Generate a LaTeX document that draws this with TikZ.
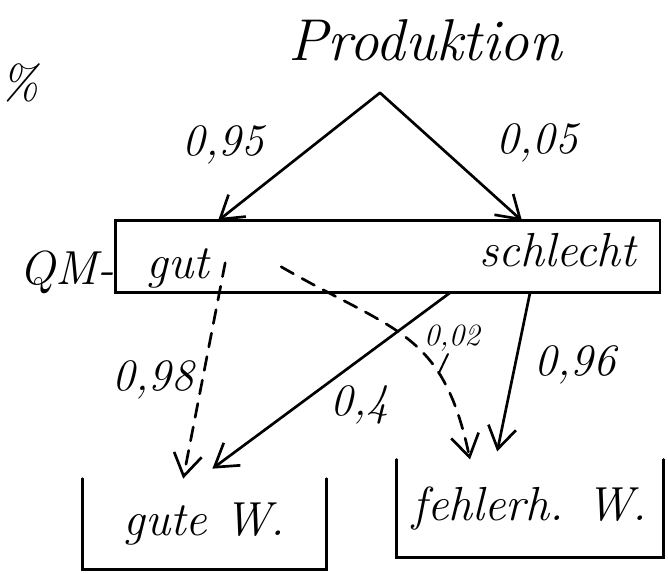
\documentclass[tikz,border=0pt]{standalone}
\usetikzlibrary{arrows.meta,calc}

\begin{document}
\begin{tikzpicture}[line width=1.9pt, line cap=round]
    \tikzset{lbl/.style={font=\fontsize{34}{40}\selectfont\itshape, inner sep=1pt},
             prob/.style={font=\fontsize{32}{36}\selectfont\itshape, inner sep=1pt},
             arr/.style={-{Straight Barb[length=5.5mm,width=7mm]}},
             dsh/.style={arr, dash pattern=on 10pt off 7pt},
             tray/.style={lbl, inner sep=0pt}}
    \useasboundingbox (0,0) rectangle (16.7,14.35);
    \node[lbl] (pct) at (0.5,12.28) {\%};
    \node[lbl, font=\fontsize{42}{48}\selectfont\itshape] (prod) at (10.63,13.35) {Produktion};
    \coordinate (apex) at (9.5,12.03);
    \node[draw, minimum width=13.62cm, minimum height=1.8cm] (qm) at (9.69,7.93) {};
    \node[lbl, anchor=east, inner sep=0pt] (qmlbl) at (2.88,7.55) {QM-};
    \node[lbl] (gut) at (4.45,7.65) {gut};
    \node[lbl] (schlecht) at (13.95,8.1) {schlecht};
    \node[tray, minimum width=6.03cm, minimum height=2.2cm] (gute) at (5.11,1.25) {gute W.};
    \node[tray, minimum width=6.6cm, minimum height=2.38cm] (fehler) at (13.25,1.64) {fehlerh. W.};
    \draw (gute.north west) |- (gute.south east) -- (gute.north east);
    \draw (fehler.north west) |- (fehler.south east) -- (fehler.north east);
    \coordinate (gin) at (5.45,8.83);
    \coordinate (sin) at (13.05,8.83);
    \draw[arr] (apex) -- (gin);
    \draw[arr] (apex) -- (sin);
    \node[prob] (l095) at (5.58,10.73) {0,95};
    \node[prob] (l005) at (13.43,10.78) {0,05};
    \coordinate (gout) at (5.63,7.78);
    \coordinate (gcur) at (7.03,7.68);
    \coordinate (sout) at (11.25,7.03);
    \coordinate (sdown) at (13.25,7.03);
    \draw[dsh] (gout) -- ([xshift=-5.3mm]gute.north);
    \draw[arr] (sout) -- ([xshift=2mm,yshift=2.5mm]gute.north);
    \draw[dsh] (gcur) to[out=-30,in=102,looseness=1.25] coordinate[pos=0.7] (tk)
      ([xshift=-15mm]fehler.north);
    \draw[arr] (sdown) -- ([xshift=-8.2mm,yshift=2mm]fehler.north);
    \node[prob] (l098) at (3.83,4.85) {0,98};
    \node[prob] (l04) at (9.0,4.23) {0,4};
    \node[prob, font=\fontsize{22}{26}\selectfont\itshape] (l002) at (11.3,5.9) {0,02};
    \node[prob] (l096) at (14.38,5.23) {0,96};
    \draw[line width=1.4pt] ([xshift=-1mm]l002.south) -- (tk);
\end{tikzpicture}
\end{document}
